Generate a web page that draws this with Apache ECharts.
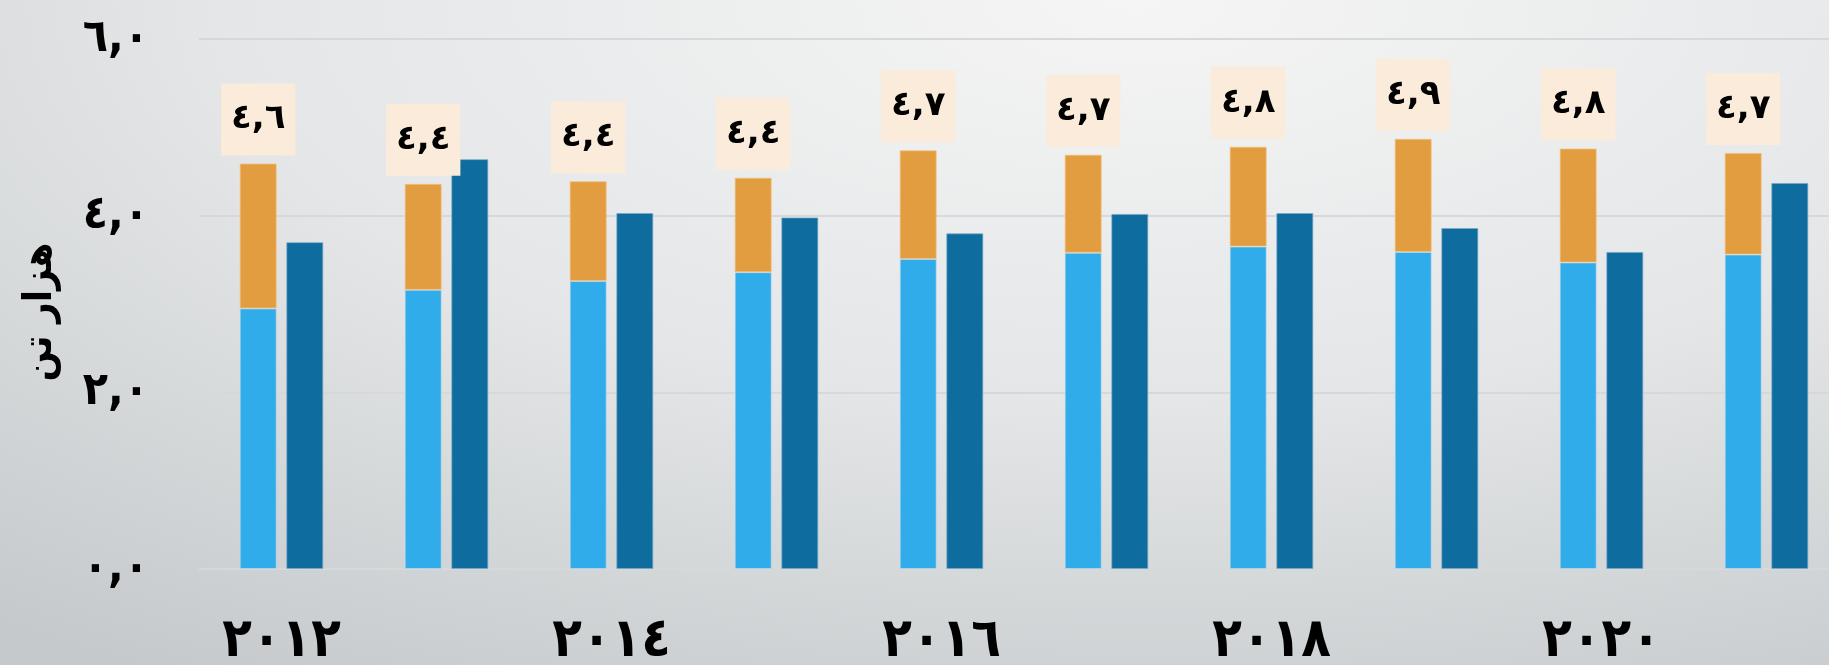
<!DOCTYPE html>
<html><head><meta charset="utf-8">
<script src="https://cdn.jsdelivr.net/npm/echarts@6/dist/echarts.min.js"></script>
<style>
html,body{margin:0;padding:0;width:1829px;height:665px;overflow:hidden}
#c{width:1829px;height:665px;background:radial-gradient(ellipse 100% 120% at 62% 0%, #f5f5f5 0%, #e4e6e7 50%, #c5c9cb 100%);}
</style></head>
<body><div id="c"></div>
<script>
const years = ['2012','2013','2014','2015','2016','2017','2018','2019','2020','2021'];
const baseValues  = [2.95, 3.16, 3.26, 3.36, 3.51, 3.58, 3.65, 3.59, 3.47, 3.56];
const topValues   = [1.64, 1.20, 1.13, 1.07, 1.23, 1.11, 1.13, 1.28, 1.29, 1.15];
const otherValues = [3.70, 4.64, 4.03, 3.98, 3.80, 4.02, 4.03, 3.86, 3.59, 4.37];
const totalLabels = [4.6, 4.4, 4.4, 4.4, 4.7, 4.7, 4.8, 4.9, 4.8, 4.7];
const axisName = 'هزار تن';

const AR = '٠١٢٣٤٥٦٧٨٩';
function toAr(s){ return String(s).replace(/[0-9]/g, d => AR[+d]); }
function fmt1(v){ return toAr(v.toFixed(1)).replace('.', ','); }

const FONT = '"DejaVu Sans", sans-serif';
const FONTC = '"DejaVu Sans Condensed", "DejaVu Sans", sans-serif';
const chart = echarts.init(document.getElementById('c'), null, {renderer:'canvas'});
chart.setOption({
  backgroundColor: 'transparent',
  animation: false,
  grid: {left: 199, width: 1650, top: 39, bottom: 96, containLabel: false, outerBoundsMode: 'none'},
  xAxis: {
    type: 'category',
    data: years.map(toAr),
    axisLine: {show: false},
    axisTick: {show: false},
    axisLabel: {interval: 1, color: '#000', fontFamily: FONTC, fontWeight: 'bold', fontSize: 54, margin: 46}
  },
  yAxis: {
    type: 'value', min: 0, max: 6, interval: 2,
    name: axisName, nameLocation: 'middle', nameRotate: 90, nameGap: 138,
    nameTextStyle: {color: '#000', fontFamily: FONTC, fontWeight: 'bold', fontSize: 40, padding: [0, 16, 0, 0]},
    axisLine: {show: false}, axisTick: {show: false},
    axisLabel: {formatter: v => fmt1(v), color: '#000', fontFamily: FONTC, fontWeight: 'bold', fontSize: 46, margin: 50},
    splitLine: {show: true, lineStyle: {color: '#d6d8d9', width: 2}}
  },
  series: [
    {type: 'bar', name: 'a', stack: 's', data: baseValues, barWidth: 37, barGap: '26%',
     itemStyle: {color: '#31ACEA', borderColor: 'rgba(200,220,230,0.6)', borderWidth: 1}},
    {type: 'bar', name: 'b', stack: 's', data: topValues, barWidth: 37,
     itemStyle: {color: '#E29D40', borderColor: 'rgba(245,190,120,0.7)', borderWidth: 1},
     label: {show: true, position: 'top', distance: 8,
       formatter: p => fmt1(totalLabels[p.dataIndex]),
       color: '#000', fontFamily: FONT, fontWeight: 'bold', fontSize: 34,
       backgroundColor: '#FAEBDA', padding: [16, 10, 16, 10], lineHeight: 40}},
    {type: 'bar', name: 'c', data: otherValues, barWidth: 37, barGap: '26%',
     itemStyle: {color: '#0E6C9E', borderColor: 'rgba(120,170,200,0.7)', borderWidth: 1}}
  ]
});
</script></body></html>
